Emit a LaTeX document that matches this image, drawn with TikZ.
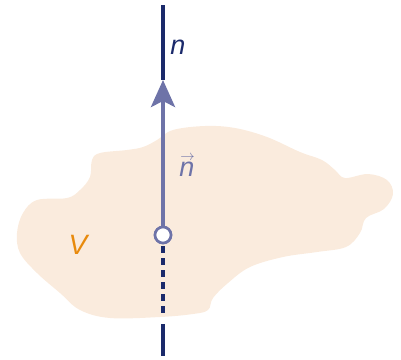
\documentclass[tikz,border=0pt]{standalone}
\usepackage{fontspec}
\setmainfont{Liberation Sans}
\usetikzlibrary{arrows.meta}
\definecolor{marino}{HTML}{1B2A6B}
\definecolor{pizarra}{HTML}{6E73A8}
\definecolor{durazno}{HTML}{FAEBDD}
\definecolor{naranja}{HTML}{E88A0C}
\newcommand{\flechita}[1]{\rlap{\hspace{0.03em}\raisebox{0.58em}[0pt][0pt]{\fontsize{14}{14}\selectfont$\rightarrow$}}#1}
\begin{document}
\begin{tikzpicture}[
    x=1pt,
    y=-1pt,
    eje/.style={marino,line width=3.2pt},
    normal/.style={pizarra,line width=4pt,-{Stealth[length=27pt,width=24pt,inset=6pt]}},
    punto/.style={circle,draw=pizarra,fill=white,line width=2.6pt,minimum size=16pt,inner sep=0pt},
    etiqueta/.style={font=\itshape\fontsize{27}{29}\selectfont}
]
    \useasboundingbox (0,0) rectangle (401,359);

    % Volumen
    \fill[durazno] plot[smooth cycle,tension=0.6] coordinates {
        (173,130) (205,126) (235,128) (267,137) (300,152) (322,160)
        (335,170) (345,178) (368,174) (387,180) (393,194) (384,209)
        (366,218) (360,233) (346,247) (317,252) (283,257) (250,267)
        (228,283) (213,298) (208,310) (193,314) (160,317) (110,318)
        (80,310) (60,293) (37,273) (20,253) (17,233) (23,213)
        (37,200) (67,198) (80,190) (90,177) (92,160) (100,153)
        (127,150) (143,147) (157,140)};
    \node[naranja,font=\itshape\fontsize{28}{30}\selectfont] (V) at (78,245) {V};

    % Recta y vector normal
    \coordinate (arriba) at (163,5);
    \coordinate (punta) at (163,80);
    \coordinate (borde) at (163,318);
    \coordinate (fuera) at (163,324);
    \coordinate (abajo) at (163,356);
    \node[punto] (p) at (163,235) {};
    \draw[eje] (arriba) -- (punta);
    \draw[normal] (p.north) -- (punta);
    \draw[eje,dash pattern=on 7pt off 5pt] (p.south) ++(0,2) -- (borde);
    \draw[eje] (fuera) -- (abajo);
    \node[punto] at (p) {};

    \node[etiqueta,marino] (n) at (178,47) {n};
    \node[etiqueta,pizarra] (nv) at (187,169) {\flechita{n}};
\end{tikzpicture}
\end{document}
